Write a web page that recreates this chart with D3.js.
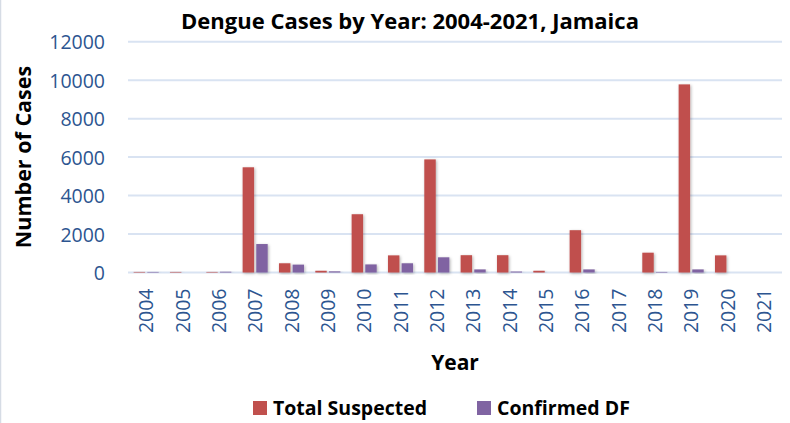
<!DOCTYPE html>
<html>
<head>
<meta charset="utf-8">
<script src="https://cdn.jsdelivr.net/npm/d3@7"></script>
<style>
  html, body { margin: 0; padding: 0; background: #fff; }
  svg { display: block; }
</style>
</head>
<body>
<div id="chart"></div>
<script>
// Dengue cases reported in Jamaica, 2004-2021
const years = ["2004","2005","2006","2007","2008","2009","2010","2011","2012",
               "2013","2014","2015","2016","2017","2018","2019","2020","2021"];
const totalSuspected = [30, 30, 30, 5470, 480, 90, 3030, 890, 5880,
                        900, 900, 90, 2200, 0, 1030, 9780, 890, 0];
const confirmedDF = [30, 0, 40, 1480, 410, 60, 420, 480, 790,
                     160, 50, 0, 160, 0, 30, 160, 0, 0];
const seriesNames = ["Total Suspected", "Confirmed DF"];
const seriesColors = ["#C0504D", "#8064A2"];
const yTicks = [0, 2000, 4000, 6000, 8000, 10000, 12000];

const W = 790, H = 423;
const plot = { left: 128, right: 782, top: 41.7, bottom: 272.5 };

const rows = years.map((y, i) => ({ year: y, values: [totalSuspected[i], confirmedDF[i]] }));

const svg = d3.select("#chart").append("svg").attr("width", W).attr("height", H);

const defs = svg.append("defs");
const shadow = defs.append("filter").attr("id", "barShadow")
  .attr("x", "-50%").attr("y", "-10%").attr("width", "200%").attr("height", "130%");
shadow.append("feDropShadow").attr("dx", 1).attr("dy", 1)
  .attr("stdDeviation", 1.6).attr("flood-color", "#000").attr("flood-opacity", 0.3);

// chart frame edge on the left
svg.append("line").attr("x1", 0.5).attr("x2", 0.5).attr("y1", 0).attr("y2", H)
  .attr("stroke", "#d6dce5").attr("stroke-width", 1.5);

const x0 = d3.scaleBand().domain(years).range([plot.left, plot.right])
  .paddingInner(0.31).paddingOuter(0.155);
const x1 = d3.scaleBand().domain(seriesNames).range([0, x0.bandwidth()]).paddingInner(0.16);
const y = d3.scaleLinear().domain([0, 12000]).range([plot.bottom, plot.top]);

// horizontal gridlines
svg.append("g").selectAll("line").data(yTicks).join("line")
  .attr("x1", plot.left).attr("x2", plot.right)
  .attr("y1", d => y(d)).attr("y2", d => y(d))
  .attr("stroke", "#d9e3f2").attr("stroke-width", 2);

// y axis labels
const yAxis = d3.axisLeft(y).tickValues(yTicks).tickSize(0).tickPadding(0).tickFormat(d3.format("d"));
const gy = svg.append("g").attr("transform", `translate(${plot.left - 23},0)`).call(yAxis);
gy.select(".domain").remove();
gy.selectAll("text")
  .attr("fill", "#2c5590").attr("font-family", "'Open Sans', sans-serif")
  .attr("font-size", 19.5).attr("dy", "0.36em");

// bars
const groups = svg.append("g").selectAll("g").data(rows).join("g")
  .attr("transform", d => `translate(${x0(d.year)},0)`);
groups.selectAll("rect")
  .data(d => d.values.map((v, i) => ({ name: seriesNames[i], value: v, color: seriesColors[i] })))
  .join("rect")
  .attr("x", d => x1(d.name))
  .attr("width", x1.bandwidth())
  .attr("y", d => y(d.value))
  .attr("height", d => y(0) - y(d.value))
  .attr("fill", d => d.color)
  .attr("filter", "url(#barShadow)");

// x axis labels (rotated)
const xAxis = d3.axisBottom(x0).tickSize(0).tickPadding(0);
const gx = svg.append("g").attr("transform", `translate(0,${plot.bottom})`).call(xAxis);
gx.select(".domain").remove();
gx.selectAll("text")
  .attr("fill", "#2c5590").attr("font-family", "'Open Sans', sans-serif")
  .attr("font-size", 19.5)
  .attr("text-anchor", "end")
  .attr("transform", "translate(0,16) rotate(-90)")
  .attr("x", 0).attr("y", 0).attr("dy", "0.36em");

// titles
svg.append("text").attr("x", 410).attr("y", 28.5).attr("text-anchor", "middle")
  .attr("font-family", "'Open Sans', sans-serif").attr("font-weight", "bold")
  .attr("font-size", 22).attr("fill", "#000")
  .text("Dengue Cases by Year: 2004-2021, Jamaica");

svg.append("text").attr("transform", "translate(23,157) rotate(-90)")
  .attr("text-anchor", "middle").attr("dy", "0.36em")
  .attr("font-family", "'Open Sans', sans-serif").attr("font-weight", "bold")
  .attr("font-size", 21.5).attr("fill", "#000")
  .text("Number of Cases");

svg.append("text").attr("x", 455).attr("y", 370).attr("text-anchor", "middle")
  .attr("font-family", "'Open Sans', sans-serif").attr("font-weight", "bold")
  .attr("font-size", 21).attr("fill", "#000")
  .text("Year");

// legend
const legendX = [253, 477];
const legend = svg.append("g").selectAll("g").data(seriesNames).join("g")
  .attr("transform", (d, i) => `translate(${legendX[i]},401)`);
legend.append("rect").attr("width", 14).attr("height", 14)
  .attr("fill", (d, i) => seriesColors[i]);
legend.append("text").attr("x", 20).attr("y", 7).attr("dy", "0.36em")
  .attr("font-family", "'Open Sans', sans-serif").attr("font-weight", "bold")
  .attr("font-size", 19.5).attr("fill", "#000")
  .text(d => d);
</script>
</body>
</html>
